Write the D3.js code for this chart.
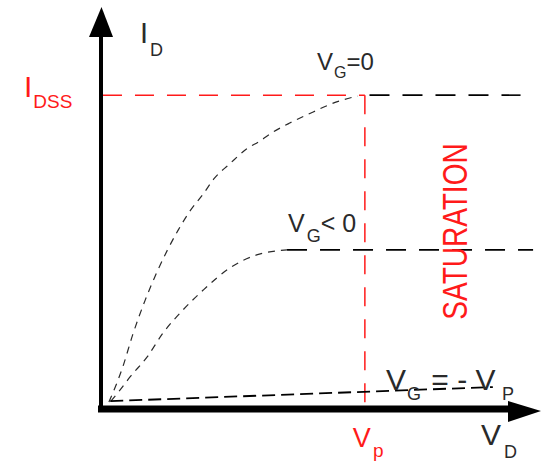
<!DOCTYPE html>
<html>
<head>
<meta charset="utf-8">
<script src="https://cdn.jsdelivr.net/npm/d3@7"></script>
<style>
  html, body { margin: 0; padding: 0; background: #fff; }
  svg { display: block; font-family: "Liberation Sans", Arial, sans-serif; }
</style>
</head>
<body>
<svg id="chart" width="541" height="461"></svg>
<script>
// JFET output characteristic: drain current vs drain voltage
const vdMax = 6.67;     // drain voltage extent (V)
const idMax = 13;       // drain current extent (mA)
const idss = 10;        // saturation current at VG = 0
const vp = 4;           // pinch-off voltage

// VG = 0 curve (ohmic region up to pinch-off)
const vg0_vd = [0.12, 0.33, 0.48, 0.67, 0.85, 1.17, 1.35, 1.55, 1.71, 1.95, 2.21, 2.41, 2.59, 2.86, 3.12, 3.62, 3.89];
const vg0_id = [0.22, 1.34, 2.36, 3.47, 4.37, 5.70, 6.31, 6.85, 7.33, 7.81, 8.29, 8.54, 8.80, 9.11, 9.37, 9.82, 9.97];
// VG = 0 saturation level beyond pinch-off
const vg0Sat_vd = [vp, 6.36];

// VG < 0 curve
const vgNeg_vd = [0.15, 0.29, 0.44, 0.70, 0.94, 1.24, 1.55, 1.95, 2.36, 2.82];
const vgNeg_id = [0.25, 0.61, 1.02, 1.66, 2.42, 3.15, 3.79, 4.49, 4.91, 5.07];
const vgNegSat_vd = [2.82, 6.55];
const vgNegSat_id = 5.07;

// VG = -VP (channel pinched off)
const vgOff_vd = [0.14, 5.94];
const vgOff_id = [0.25, 0.70];

const svg = d3.select("#chart");
const x = d3.scaleLinear().domain([0, vdMax]).range([101, 541]);
const y = d3.scaleLinear().domain([0, idMax]).range([409, 1]);

const RED = "#ff1a1a";
const INK = "#2a2a2a";

const line = d3.line().x(d => x(d[0])).y(d => y(d[1]));
const smooth = d3.line().x(d => x(d[0])).y(d => y(d[1])).curve(d3.curveMonotoneX);

// reference lines for IDSS and VP
svg.append("path")
  .attr("d", line([[0.03, idss], [vp, idss]]))
  .attr("fill", "none").attr("stroke", RED).attr("stroke-width", 1.5)
  .attr("stroke-dasharray", "19,13");
svg.append("path")
  .attr("d", line([[vp, idss], [vp, 0]]))
  .attr("fill", "none").attr("stroke", RED).attr("stroke-width", 1.5)
  .attr("stroke-dasharray", "19,13");

// saturation levels
svg.append("path")
  .attr("d", line([[vg0Sat_vd[0] + 0.07, idss], [vg0Sat_vd[1], idss]]))
  .attr("fill", "none").attr("stroke", "#000").attr("stroke-width", 1.6)
  .attr("stroke-dasharray", "20,13");
svg.append("path")
  .attr("d", line([[vgNegSat_vd[0], vgNegSat_id], [vgNegSat_vd[1], vgNegSat_id]]))
  .attr("fill", "none").attr("stroke", "#000").attr("stroke-width", 1.6)
  .attr("stroke-dasharray", "20,13");

// ohmic-region curves
svg.append("path")
  .attr("d", smooth(vg0_vd.map((v, i) => [v, vg0_id[i]])))
  .attr("fill", "none").attr("stroke", INK).attr("stroke-width", 1.2)
  .attr("stroke-dasharray", "7,6");
svg.append("path")
  .attr("d", smooth(vgNeg_vd.map((v, i) => [v, vgNeg_id[i]])))
  .attr("fill", "none").attr("stroke", INK).attr("stroke-width", 1.2)
  .attr("stroke-dasharray", "7,6");

// pinched-off line
svg.append("path")
  .attr("d", line(vgOff_vd.map((v, i) => [v, vgOff_id[i]])))
  .attr("fill", "none").attr("stroke", "#000").attr("stroke-width", 1.8)
  .attr("stroke-dasharray", "13,6");

// axes (no ticks), thick strokes with arrowheads
const xAxis = svg.append("g").attr("transform", `translate(0,${y(0)})`)
  .call(d3.axisBottom(x).tickValues([]).tickSizeOuter(0));
xAxis.select(".domain").attr("stroke", "#000").attr("stroke-width", 7)
  .attr("d", `M${x(0) - 3},0H${x(vdMax) - 30}`);
const yAxis = svg.append("g").attr("transform", `translate(${x(0)},0)`)
  .call(d3.axisLeft(y).tickValues([]).tickSizeOuter(0));
yAxis.select(".domain").attr("stroke", "#000").attr("stroke-width", 4)
  .attr("d", `M0,${y(0) + 3}V${y(idMax) + 34}`);

svg.append("path")
  .attr("d", `M${x(vdMax) - 33},${y(0) - 8}L${x(vdMax)},${y(0) + 2}L${x(vdMax) - 33},${y(0) + 13}Z`)
  .attr("fill", "#000");
svg.append("path")
  .attr("d", `M${x(0) - 12},${y(idMax) + 36}L${x(0) + 0.5},${y(idMax) + 6}L${x(0) + 12},${y(idMax) + 36}Z`)
  .attr("fill", "#000");

// labels with subscripts
function label(px, py, main, sub, rest, o) {
  const t = svg.append("text").attr("x", px).attr("y", py)
    .attr("fill", o.color).attr("font-size", o.size);
  t.append("tspan").text(main);
  if (sub) t.append("tspan").attr("font-size", o.subSize).attr("dy", o.subDy).attr("dx", o.subDx || 1).text(sub);
  if (rest) t.append("tspan").attr("font-size", o.size).attr("dy", -o.subDy).attr("dx", o.restDx || 0).text(rest);
  return t;
}

label(x(0) + 39, 43, "I", "D", null, { color: INK, size: 29, subSize: 18, subDy: 13, subDx: 2 });
label(24, 97, "I", "DSS", null, { color: RED, size: 30, subSize: 19, subDy: 11, subDx: 0 });
label(317, 70, "V", "G", "=0", { color: INK, size: 24, subSize: 16, subDy: 8, subDx: 1, restDx: 0 });
label(288, 232, "V", "G", "< 0", { color: INK, size: 25, subSize: 18, subDy: 10, subDx: 2, restDx: 0 });
label(386, 390, "V", "G", " =  - V", { color: INK, size: 30, subSize: 18, subDy: 10, subDx: 1, restDx: 2 });
svg.append("text").attr("x", 502).attr("y", 400).attr("fill", INK).attr("font-size", 18).text("P");
label(x(vp) - 12, 447, "V", "p", null, { color: RED, size: 27, subSize: 19, subDy: 10, subDx: 2 });
label(481, 445, "V", "D", null, { color: INK, size: 30, subSize: 18, subDy: 13, subDx: 3 });

// region name
svg.append("text")
  .attr("transform", "translate(467,231.5) rotate(-90) scale(1,1.25)")
  .attr("text-anchor", "middle")
  .attr("fill", RED).attr("font-size", 28)
  .text("SATURATION");
</script>
</body>
</html>
